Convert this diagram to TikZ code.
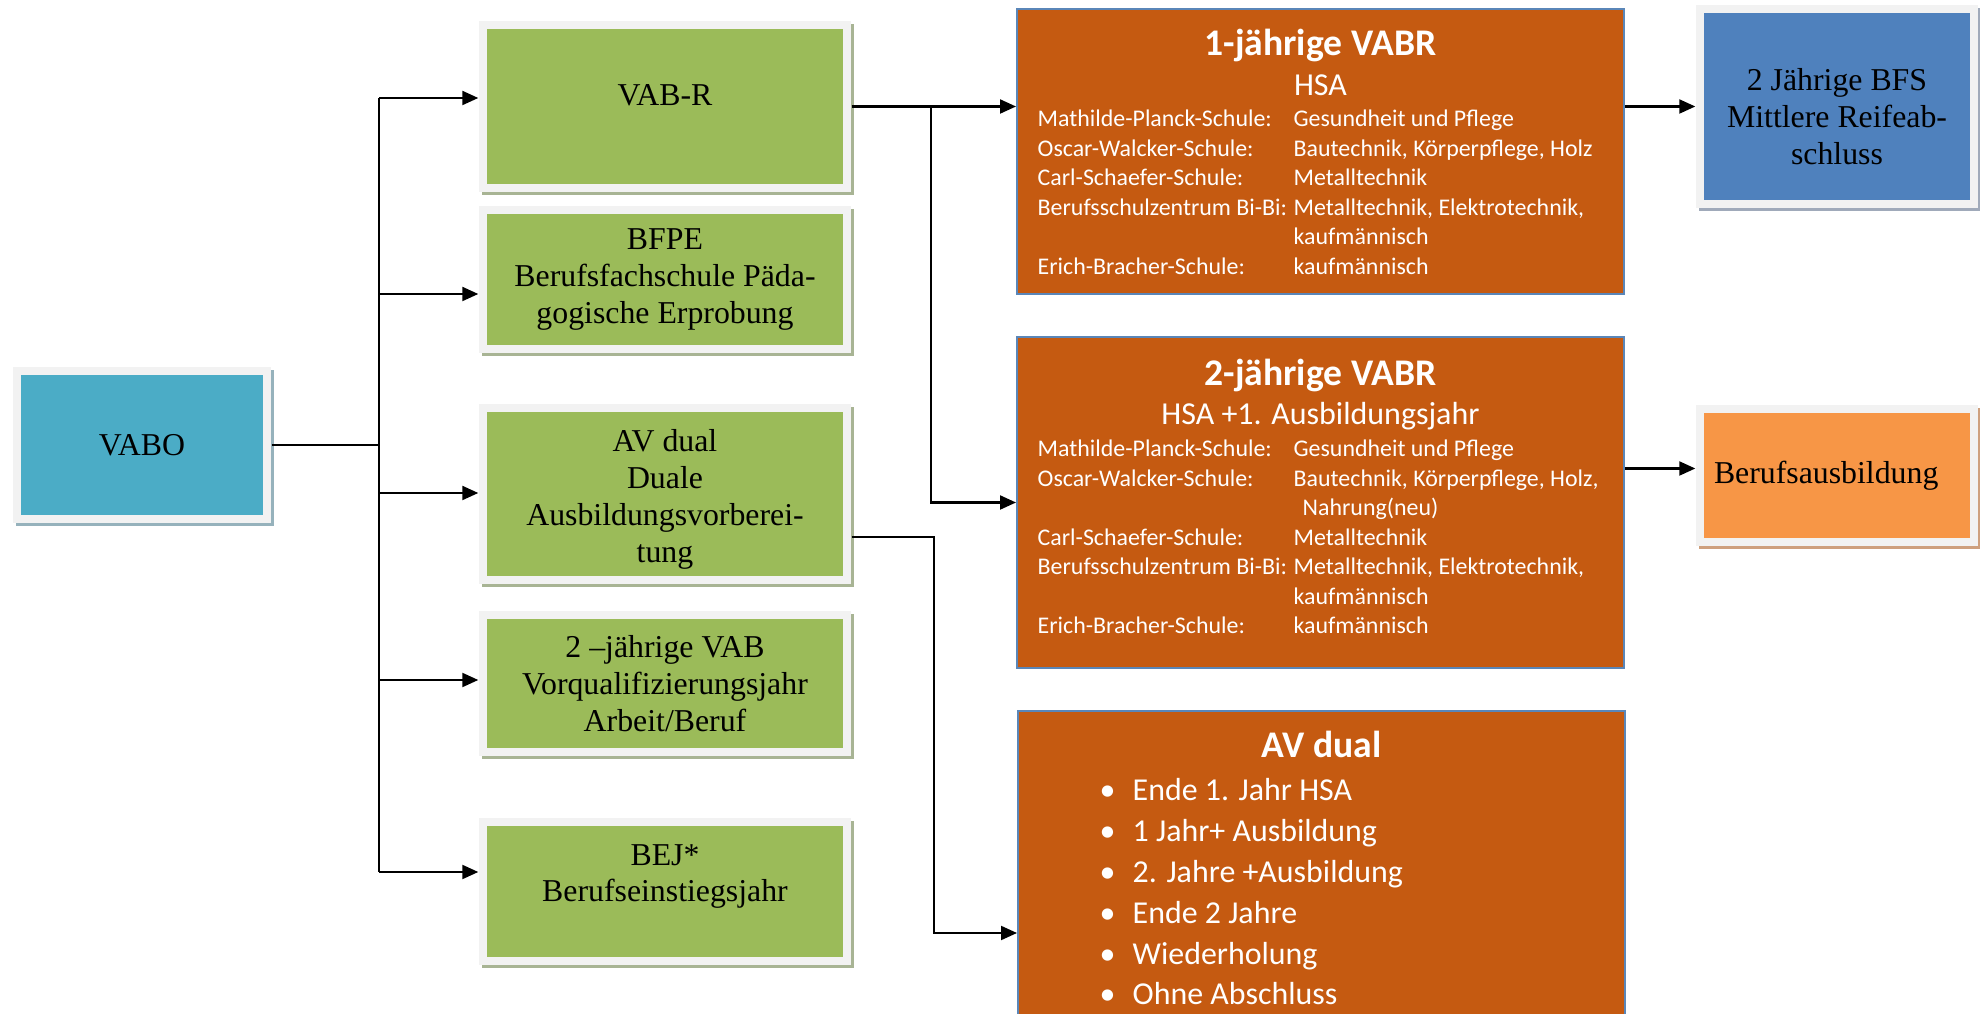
\documentclass[tikz,border=0pt]{standalone}
\usepackage{fontspec}
\setmainfont{Liberation Serif}
\newfontfamily\calibri{Carlito}
\usetikzlibrary{positioning,arrows.meta,shadows,calc}
\definecolor{rahmengrau}{HTML}{F2F2F2}
\definecolor{vabotuerkis}{HTML}{4BACC6}
\definecolor{vaboschatten}{RGB}{150,178,188}
\definecolor{gruen}{HTML}{9BBB59}
\definecolor{gruenschatten}{RGB}{168,180,148}
\definecolor{bfsblau}{HTML}{4F81BD}
\definecolor{bfsschatten}{RGB}{160,170,186}
\definecolor{ausborange}{HTML}{F79646}
\definecolor{ausbschatten}{RGB}{206,160,126}
\definecolor{vabrbraun}{HTML}{C55A11}
\definecolor{randblau}{HTML}{5A86B8}
\tikzset{kasten/.style 2 args={fill=rahmengrau, inner sep=0pt, align=center,
    font=\fontsize{9.05}{10.5}\selectfont,
    drop shadow={shadow xshift=0.03cm, shadow yshift=-0.03cm, fill=#2, opacity=1},
    path picture={\fill[#1] ([shift={(0.08,0.08)}]path picture bounding box.south west)
      rectangle ([shift={(-0.08,-0.08)}]path picture bounding box.north east);}}}
\tikzset{gruenkasten/.style={kasten={gruen}{gruenschatten}, minimum width=3.72cm}}
\tikzset{vabrkasten/.style={fill=vabrbraun, draw=randblau, line width=0.02cm, minimum width=6.07cm, inner sep=0pt}}
\tikzset{titel/.style={anchor=base, inner sep=0pt, text=white, font=\calibri\bfseries\fontsize{10.7}{12}\selectfont}}
\tikzset{untertitel/.style={anchor=base, inner sep=0pt, text=white, font=\calibri\fontsize{9.1}{10}\selectfont}}
\tikzset{schulen/.style={anchor=base west, inner sep=0pt, text=white, font=\calibri\fontsize{6.8}{8.37}\selectfont}}
\tikzset{liste/.style={anchor=base west, inner sep=0pt, text=white, font=\calibri\fontsize{9.08}{11.6}\selectfont}}
\tikzset{pfeil/.style={line width=0.6pt, -{Triangle[length=0.16cm,width=0.14cm]}}}
\tikzset{linie/.style={line width=0.6pt}}

\begin{document}
\begin{tikzpicture}
  \useasboundingbox (0,0) rectangle (19.8,-10.14);
  % linke Spalte
  \node[kasten={vabotuerkis}{vaboschatten}, minimum width=2.58cm, minimum height=1.56cm] (vabo) at (1.42,-4.45) {VABO};
  \node[gruenkasten, minimum height=1.71cm] (vabr) at (6.65,-1.065) {VAB-R\\[-0.14cm]\mbox{}};
  \node[gruenkasten, minimum height=1.47cm] (bfpe) at (6.65,-2.795) {BFPE\\Berufsfachschule Päda-\\gogische Erprobung};
  \node[gruenkasten, minimum height=1.80cm] (avdual) at (6.65,-4.94) {\strut\\[-0.3cm]AV dual\\Duale\\Ausbildungsvorberei-\\tung};
  \node[gruenkasten, minimum height=1.45cm] (vab) at (6.65,-6.835) {2 –jährige VAB\\Vorqualifizierungsjahr\\Arbeit/Beruf};
  \node[gruenkasten, minimum height=1.47cm] (bej) at (6.65,-8.915) {BEJ*\\Berufseinstiegsjahr\\\mbox{}};

  % rechte Spalte
  \node[kasten={bfsblau}{bfsschatten}, minimum width=2.82cm, minimum height=2.03cm] (bfs) at (18.37,-1.065)
    {\strut\\[-0.2cm]2 Jährige BFS\\Mittlere Reifeab-\\schluss};
  \node[kasten={ausborange}{ausbschatten}, minimum width=2.82cm, minimum height=1.41cm,
    text width=2.46cm, inner xsep=0.18cm, align=left] (ausb) at (18.37,-4.755) {\raisebox{-0.1cm}{Berufsausbildung}};

  % VABR-Kaesten
  \node[vabrkasten, minimum height=2.85cm] (vabr1) at (13.205,-1.515) {};
  \node[titel] (vabr1titel) at ([yshift=-0.48cm]vabr1.north) {1-jährige VABR};
  \node[untertitel] (vabr1hsa) at ([yshift=-0.88cm]vabr1.north) {HSA};
  \node[schulen] (vabr1schulen) at ([xshift=0.21cm,yshift=-1.19cm]vabr1.north west) {%
    \begin{tabular}[t]{@{}p{2.56cm}@{}p{3.3cm}@{}}
      Mathilde-Planck-Schule: & Gesundheit und Pflege\\
      Oscar-Walcker-Schule: & Bautechnik, Körperpflege, Holz\\
      Carl-Schaefer-Schule: & Metalltechnik\\
      Berufsschulzentrum Bi-Bi: & Metalltechnik, Elektrotechnik,\newline kaufmännisch\\
      Erich-Bracher-Schule: & kaufmännisch
    \end{tabular}};

  \node[vabrkasten, minimum height=3.31cm] (vabr2) at (13.205,-5.025) {};
  \node[titel] (vabr2titel) at ([yshift=-0.50cm]vabr2.north) {2-jährige VABR};
  \node[untertitel] (vabr2hsa) at ([yshift=-0.89cm]vabr2.north) {HSA +1. Ausbildungsjahr};
  \node[schulen] (vabr2schulen) at ([xshift=0.21cm,yshift=-1.21cm]vabr2.north west) {%
    \begin{tabular}[t]{@{}p{2.56cm}@{}p{3.3cm}@{}}
      Mathilde-Planck-Schule: & Gesundheit und Pflege\\
      Oscar-Walcker-Schule: & Bautechnik, Körperpflege, Holz,\newline\hspace*{0.09cm}Nahrung(neu)\\
      Carl-Schaefer-Schule: & Metalltechnik\\
      Berufsschulzentrum Bi-Bi: & Metalltechnik, Elektrotechnik,\newline kaufmännisch\\
      Erich-Bracher-Schule: & kaufmännisch
    \end{tabular}};

  \node[vabrkasten, minimum height=3.19cm] (avd) at (13.215,-8.705) {};
  \node[titel] (avdtitel) at ([yshift=-0.48cm]avd.north) {AV dual};
  \node[liste] (avdliste) at ([xshift=0.82cm,yshift=-0.91cm]avd.north west) {%
    \begin{tabular}[t]{@{}p{0.33cm}@{}l@{}}
      \textbullet & Ende 1. Jahr HSA\\
      \textbullet & 1 Jahr+ Ausbildung\\
      \textbullet & 2. Jahre +Ausbildung\\
      \textbullet & Ende 2 Jahre\\
      \textbullet & Wiederholung\\
      \textbullet & Ohne Abschluss
    \end{tabular}};

  % Verbindungen
  \coordinate (t1) at (3.79,-0.98);
  \coordinate (t2) at (3.79,-2.94);
  \coordinate (t3) at (3.79,-4.93);
  \coordinate (t4) at (3.79,-6.80);
  \coordinate (t5) at (3.79,-8.72);
  \coordinate (k1) at (9.31,-1.065);
  \coordinate (k3) at (9.34,-9.33);
  \draw[linie] (vabo.east) -- (vabo.east -| t1);
  \draw[linie] (t1) -- (t5);
  \draw[pfeil] (t1) -- (t1 -| vabr.west);
  \draw[pfeil] (t2) -- (t2 -| bfpe.west);
  \draw[pfeil] (t3) -- (t3 -| avdual.west);
  \draw[pfeil] (t4) -- (t4 -| vab.west);
  \draw[pfeil] (t5) -- (t5 -| bej.west);
  \draw[pfeil] (vabr.east) -- (vabr.east -| vabr1.west);
  \draw[pfeil] (k1) |- (vabr2.west);
  \draw[pfeil] ([yshift=-0.43cm]avdual.east) -| (k3) -- (k3 -| avd.west);
  \draw[pfeil] (vabr1.east |- bfs.west) -- (bfs.west);
  \draw[pfeil] ([yshift=0.07cm]vabr2.east |- ausb.west) -- ([yshift=0.07cm]ausb.west);
\end{tikzpicture}
\end{document}
